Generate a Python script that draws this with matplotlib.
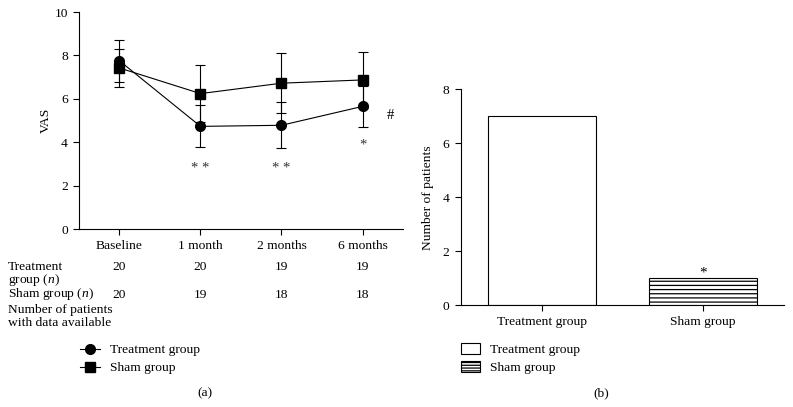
import matplotlib.pyplot as plt
import matplotlib.patches as mpatches
from matplotlib.lines import Line2D
from matplotlib.transforms import blended_transform_factory

plt.rcParams['font.family'] = 'Liberation Serif'
plt.rcParams['mathtext.fontset'] = 'custom'
plt.rcParams['mathtext.rm'] = 'Liberation Serif'
plt.rcParams['mathtext.it'] = 'Liberation Serif:italic'
plt.rcParams['font.size'] = 9.7
plt.rcParams['hatch.linewidth'] = 0.9

# (a) VAS over time
timepoints = ["Baseline", "1 month", "2 months", "6 months"]
treat_mean = [7.75, 4.73, 4.78, 5.65]
treat_sd = [0.96, 0.97, 1.06, 0.94]
sham_mean = [7.42, 6.24, 6.72, 6.87]
sham_sd = [0.86, 1.32, 1.38, 1.29]
treat_n = [20, 20, 19, 19]
sham_n = [20, 19, 18, 18]
sig_marks = ["", "* *", "* *", "*"]

# (b) number of patients
groups = ["Treatment group", "Sham group"]
patients = [7, 1]

fig = plt.figure(figsize=(7.93, 4.07), dpi=100)

ax1 = fig.add_axes([0.0996, 0.4373, 0.4086, 0.5332])
x = list(range(len(timepoints)))

ax1.errorbar(x, sham_mean, yerr=sham_sd, fmt='-s', color='black', markersize=6.5,
             linewidth=0.8, elinewidth=0.8, capsize=3.5, capthick=0.8, zorder=3)
ax1.errorbar(x, treat_mean, yerr=treat_sd, fmt='-o', color='black', markersize=7,
             linewidth=0.8, elinewidth=0.8, capsize=3.5, capthick=0.8, zorder=4)

ax1.set_xlim(-0.5, 3.5)
ax1.set_ylim(0, 10)
ax1.set_yticks([0, 2, 4, 6, 8, 10])
ax1.set_xticks(x)
ax1.set_xticklabels(timepoints)
ax1.set_ylabel("VAS", labelpad=2)
for s in ['top', 'right']:
    ax1.spines[s].set_visible(False)
for s in ['left', 'bottom']:
    ax1.spines[s].set_linewidth(0.8)
ax1.tick_params(direction='out', length=4, width=0.8, pad=4)

for i, m in enumerate(sig_marks):
    if m:
        yy = 2.8 if len(m) > 1 else 3.85
        ax1.text(i, yy, m, ha='center', va='center', fontsize=10.5, color='#333333')
ax1.text(3.34, 5.25, "#", ha='center', va='center', fontsize=10.5)

# patient counts table under the x axis
tr = blended_transform_factory(ax1.transData, fig.transFigure)
for i in x:
    ax1.text(i, 1 - 267 / 407, str(treat_n[i]), transform=tr, ha='center', va='center', clip_on=False)
    ax1.text(i, 1 - 295 / 407, str(sham_n[i]), transform=tr, ha='center', va='center', clip_on=False)
fig.text(0.01, 1 - 261 / 407, "Treatment\ngroup ($n$)", ha='left', va='top', linespacing=0.95)
fig.text(0.01, 1 - 294 / 407, "Sham group ($n$)", ha='left', va='center')
fig.text(0.01, 1 - 304 / 407, "Number of patients\nwith data available", ha='left', va='top', linespacing=1.12)

handles_a = [
    Line2D([], [], color='black', marker='o', markersize=7, linewidth=0.8, label="Treatment group"),
    Line2D([], [], color='black', marker='s', markersize=6.5, linewidth=0.8, label="Sham group"),
]
fig.legend(handles=handles_a, loc='upper left', bbox_to_anchor=(80 / 793, 1 - 344 / 407),
           frameon=False, handlelength=1.5, handletextpad=0.75, labelspacing=0.4,
           borderpad=0, borderaxespad=0)
fig.text(205 / 793, 1 - 393 / 407, "(a)", ha='center', va='center')

# (b) bar chart
ax2 = fig.add_axes([0.581, 0.2499, 0.4077, 0.5307])
xb = list(range(len(groups)))
ax2.bar(xb[0], patients[0], width=0.668, color='white', edgecolor='black', linewidth=0.8)
ax2.bar(xb[1], patients[1], width=0.668, color='white', edgecolor='black', linewidth=0.8,
        hatch='----')
ax2.set_xlim(-0.5, 1.5)
ax2.set_ylim(0, 8)
ax2.set_yticks([0, 2, 4, 6, 8])
ax2.set_xticks(xb)
ax2.set_xticklabels(groups)
ax2.set_ylabel("Number of patients", labelpad=6)
for s in ['top', 'right']:
    ax2.spines[s].set_visible(False)
for s in ['left', 'bottom']:
    ax2.spines[s].set_linewidth(0.8)
ax2.tick_params(direction='out', length=4, width=0.8, pad=4)
ax2.text(1, 1.2, "*", ha='center', va='center', fontsize=11)

handles_b = [
    mpatches.Patch(facecolor='white', edgecolor='black', linewidth=0.8, label="Treatment group"),
    mpatches.Patch(facecolor='white', edgecolor='black', linewidth=0.8, hatch='------', label="Sham group"),
]
fig.legend(handles=handles_b, loc='upper left', bbox_to_anchor=(0.581, 1 - 343 / 407),
           frameon=False, handlelength=1.4, handleheight=0.9, handletextpad=0.75,
           labelspacing=0.35, borderpad=0, borderaxespad=0)
fig.text(601.7 / 793, 1 - 393 / 407, "(b)", ha='center', va='center')

fig.savefig("out.png", dpi=100)
